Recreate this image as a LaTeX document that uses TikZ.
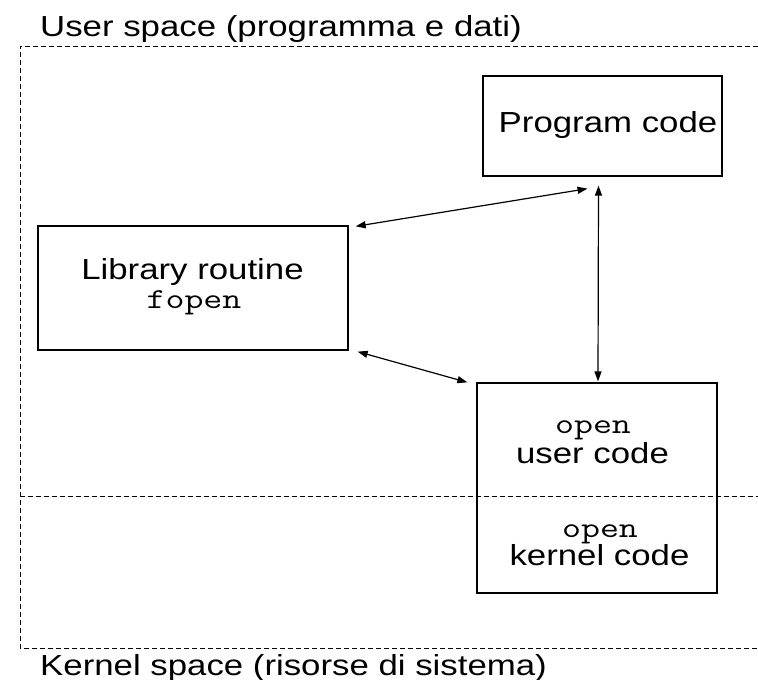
\documentclass[tikz,border=0pt]{standalone}
\usepackage{fontspec}
\usepackage{graphicx}
\setmainfont{Liberation Sans}[FakeStretch=1.2]
\usetikzlibrary{arrows.meta,calc}
\tikzset{
  box/.style={draw, line width=1.3pt, inner sep=0pt},
  zone/.style={draw, line width=0.9pt, dash pattern=on 5pt off 3pt},
  link/.style={line width=1.2pt, {Triangle[length=10pt,width=7pt]}-{Triangle[length=10pt,width=7pt]}},
  lbl/.style={anchor=base west, inner sep=0pt},
  txt/.style={anchor=base, inner sep=0pt},
}
\newcommand{\bigtxt}{\fontsize{29}{29}\selectfont}
\newcommand{\mono}[1]{{\ttfamily\fontsize{29}{29}\selectfont\scalebox{1.27}[1]{#1}}}
\begin{document}
\begin{tikzpicture}[x=1pt,y=-1pt,font=\bigtxt]
\useasboundingbox (0,0) rectangle (758,680);
% zones
\coordinate (tl) at (20,46);
\coordinate (tr) at (758,46);
\coordinate (bl) at (20,648);
\coordinate (br) at (758,648);
\coordinate (ml) at (20,496);
\coordinate (mr) at (758,496);
\draw[zone] (tr) -- (tl) -- (bl) -- (br);
\draw[zone] (ml) -- (mr);
\node[lbl] (ut) at (40,36) {User space (programma e dati)};
\node[lbl] (kt) at (40,675) {Kernel space (risorse di sistema)};
% boxes
\node[box, minimum width=239pt, minimum height=100pt] (prog) at (602.5,126) {};
\node[txt] (progt) at (608,132) {Program code};
\node[box, minimum width=310pt, minimum height=124pt] (lib) at (193,288) {};
\node[txt] (libt) at (192.5,279) {Library routine};
\node[txt] (libf) at (194,308) {\mono{fopen}};
\node[box, minimum width=240pt, minimum height=210pt] (open) at (597,488) {};
\node[txt] (ouo) at (593,433) {\mono{open}};
\node[txt] (ouu) at (592.5,463) {user code};
\node[txt] (oko) at (600,537) {\mono{open}};
\node[txt] (okk) at (599.5,565) {kernel code};
% connectors
\draw[link] ($(lib.north east)+(7,1)$) -- ($(prog.south)+(-15,12)$);
\draw[link] ($(prog.south)+(-4,9)$) -- ($(open.north)+(1,-1)$);
\draw[link] ($(lib.south east)+(9,1)$) -- ($(open.north west)+(-9,0)$);
\end{tikzpicture}
\end{document}
